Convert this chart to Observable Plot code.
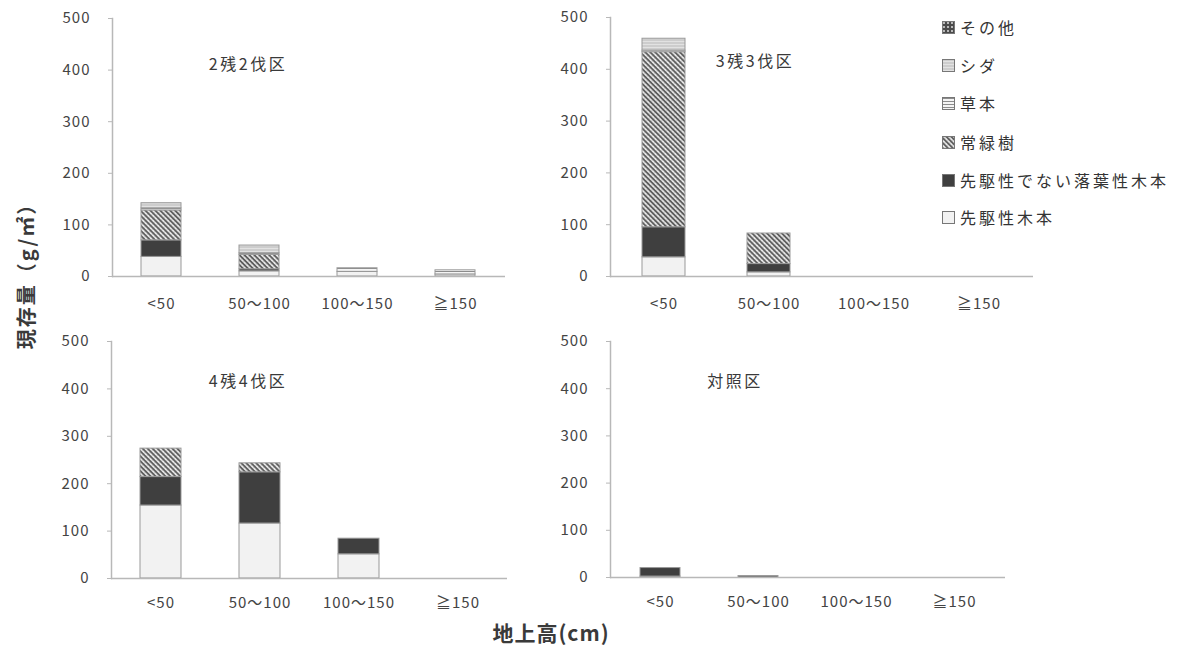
<!DOCTYPE html>
<html><head><meta charset="utf-8">
<script src="https://cdn.jsdelivr.net/npm/d3@7"></script>
<script src="https://cdn.jsdelivr.net/npm/@observablehq/plot@0.6"></script>
<style>
body{margin:0;background:#fff;font-family:"Noto Sans CJK JP","Noto Sans",sans-serif;color:#3a3a3a}
#root{position:relative;width:1184px;height:647px;overflow:hidden;background:#fff}
.panel{position:absolute}
.ptitle{position:absolute;font-size:16px;letter-spacing:2.5px;transform:translate(-50%,-50%);white-space:nowrap;color:#3a3a3a}
.leg{position:absolute;left:942px;font-size:16px;letter-spacing:3px;white-space:nowrap;display:flex;align-items:center;color:#333;transform:translateY(-50%)}
.leg svg{margin-right:5px}
#ytitle{position:absolute;left:25px;top:271px;transform:translate(-50%,-50%) rotate(-90deg);font-size:20px;font-weight:bold;letter-spacing:2px;white-space:nowrap;color:#3a3a3a}
#xtitle{position:absolute;left:551px;top:632px;transform:translate(-50%,-50%);font-size:21px;font-weight:bold;letter-spacing:1px;white-space:nowrap;color:#3a3a3a}
</style></head><body>
<svg width="0" height="0" style="position:absolute">
<defs>
<pattern id="p-other" width="4" height="4" patternUnits="userSpaceOnUse"><rect width="4" height="4" fill="#4a4a4a"/><circle cx="2" cy="2" r="1" fill="#ddd"/></pattern>
<pattern id="p-fern" width="3" height="3" patternUnits="userSpaceOnUse"><rect width="3" height="3" fill="#cdcdcd"/><rect y="2" width="3" height="1" fill="#e2e2e2"/></pattern>
<pattern id="p-herb" width="3" height="3" patternUnits="userSpaceOnUse"><rect width="3" height="3" fill="#f4f4f4"/><rect y="1" width="3" height="1" fill="#8c8c8c"/></pattern>
<pattern id="p-ever" width="3.5" height="3.5" patternUnits="userSpaceOnUse" patternTransform="rotate(45)"><rect width="3.5" height="3.5" fill="#d6d6d6"/><rect x="0" y="0" width="3.5" height="1.8" fill="#5f5f5f"/><rect x="1.2" y="1.8" width="1.1" height="1.7" fill="#f4f4f4"/></pattern>
</defs></svg>
<div id="root"></div>
<script>
// ---- data ----
const categories = ["<50", "50～100", "100～150", "≧150"];
const types = ["先駆性木本", "先駆性でない落葉性木本", "常緑樹", "草本", "シダ", "その他"];
const fills = ["#f2f2f2", "#3f3f3f", "url(#p-ever)", "url(#p-herb)", "url(#p-fern)", "url(#p-other)"];
const plotNames = ["2残2伐区", "3残3伐区", "4残4伐区", "対照区"];
const yTicks = [0, 100, 200, 300, 400, 500];
// rows: types (bottom→top), columns: categories
const zan2 = [[38, 10, 9, 4], [32, 4, 0, 0], [58, 28, 0, 0], [4, 3, 7, 8], [10, 15, 0, 0], [0, 0, 0, 0]];
const zan3 = [[37, 8, 0, 0], [58, 16, 0, 0], [338, 59, 0, 0], [3, 0, 0, 0], [23, 0, 0, 0], [0, 0, 0, 0]];
const zan4 = [[154, 116, 51, 0], [60, 108, 33, 0], [60, 19, 0, 0], [0, 0, 0, 0], [0, 0, 0, 0], [0, 0, 0, 0]];
const control = [[2, 0, 0, 0], [18, 3, 0, 0], [0, 0, 0, 0], [0, 0, 0, 0], [0, 0, 0, 0], [0, 0, 0, 0]];
const allValues = [zan2, zan3, zan4, control];

// ---- layout ----
const layout = [
  {left: 50, top: 0, w: 470, h: 320, ml: 62, mr: 15, mt: 18, mb: 44, xpad: 22, tx: 248, ty: 63},
  {left: 530, top: 0, w: 520, h: 320, ml: 80, mr: 17, mt: 17, mb: 44, xpad: 22, tx: 755, ty: 60},
  {left: 50, top: 320, w: 470, h: 300, ml: 61, mr: 13, mt: 21, mb: 42, xpad: 19, tx: 248, ty: 380},
  {left: 530, top: 320, w: 490, h: 300, ml: 80, mr: 15, mt: 21, mb: 43, xpad: 19, tx: 735, ty: 380}
];
const root = document.getElementById("root");
const axisColor = "#b8b8b8";

allValues.forEach((values, k) => {
  const cfg = layout[k];
  const rows = [];
  types.forEach((t, i) => categories.forEach((c, j) => rows.push({type: t, cat: c, value: values[i][j]})));
  const chart = Plot.plot({
    width: cfg.w, height: cfg.h,
    marginLeft: cfg.ml, marginRight: cfg.mr, marginTop: cfg.mt, marginBottom: cfg.mb,
    style: {fontFamily: '"Noto Sans CJK JP","Noto Sans",sans-serif', fontSize: "15px", color: "#444", background: "transparent", overflow: "visible", letterSpacing: "1px"},
    x: {domain: categories, paddingInner: 0.59, paddingOuter: 0.295, label: null},
    y: {domain: [0, 500], label: null},
    color: {domain: types, range: fills},
    marks: [
      Plot.barY(rows.filter(d => d.value > 0), {x: "cat", y: "value", fill: "type", order: types, stroke: "#999", strokeWidth: 1}),
      Plot.ruleY([0], {stroke: axisColor, strokeWidth: 1.5}),
      Plot.frame({anchor: "left", stroke: axisColor, strokeWidth: 1.5}),
      Plot.axisY({ticks: yTicks, tickSize: 4, tickPadding: 18, stroke: axisColor, label: null}),
      Plot.axisX({tickSize: 0, tickPadding: cfg.xpad, label: null})
    ]
  });
  const div = document.createElement("div");
  div.className = "panel";
  div.style.left = cfg.left + "px";
  div.style.top = cfg.top + "px";
  div.appendChild(chart);
  root.appendChild(div);
  const t = document.createElement("div");
  t.className = "ptitle";
  t.style.left = cfg.tx + "px";
  t.style.top = cfg.ty + "px";
  t.textContent = plotNames[k];
  root.appendChild(t);
});

// legend (top → bottom: reversed stack order)
const legendY = [27, 65, 103, 142, 180, 217];
types.slice().reverse().forEach((t, i) => {
  const idx = types.indexOf(t);
  const d = document.createElement("div");
  d.className = "leg";
  d.style.top = legendY[i] + "px";
  d.innerHTML = `<svg width="13" height="13"><rect x="0.5" y="0.5" width="12" height="12" fill="${fills[idx]}" stroke="#777"/></svg><span>${t}</span>`;
  root.appendChild(d);
});

const yt = document.createElement("div");
yt.id = "ytitle";
yt.textContent = "現存量（g/㎡）";
root.appendChild(yt);
const xt = document.createElement("div");
xt.id = "xtitle";
xt.textContent = "地上高(cm)";
root.appendChild(xt);
</script>
</body></html>
